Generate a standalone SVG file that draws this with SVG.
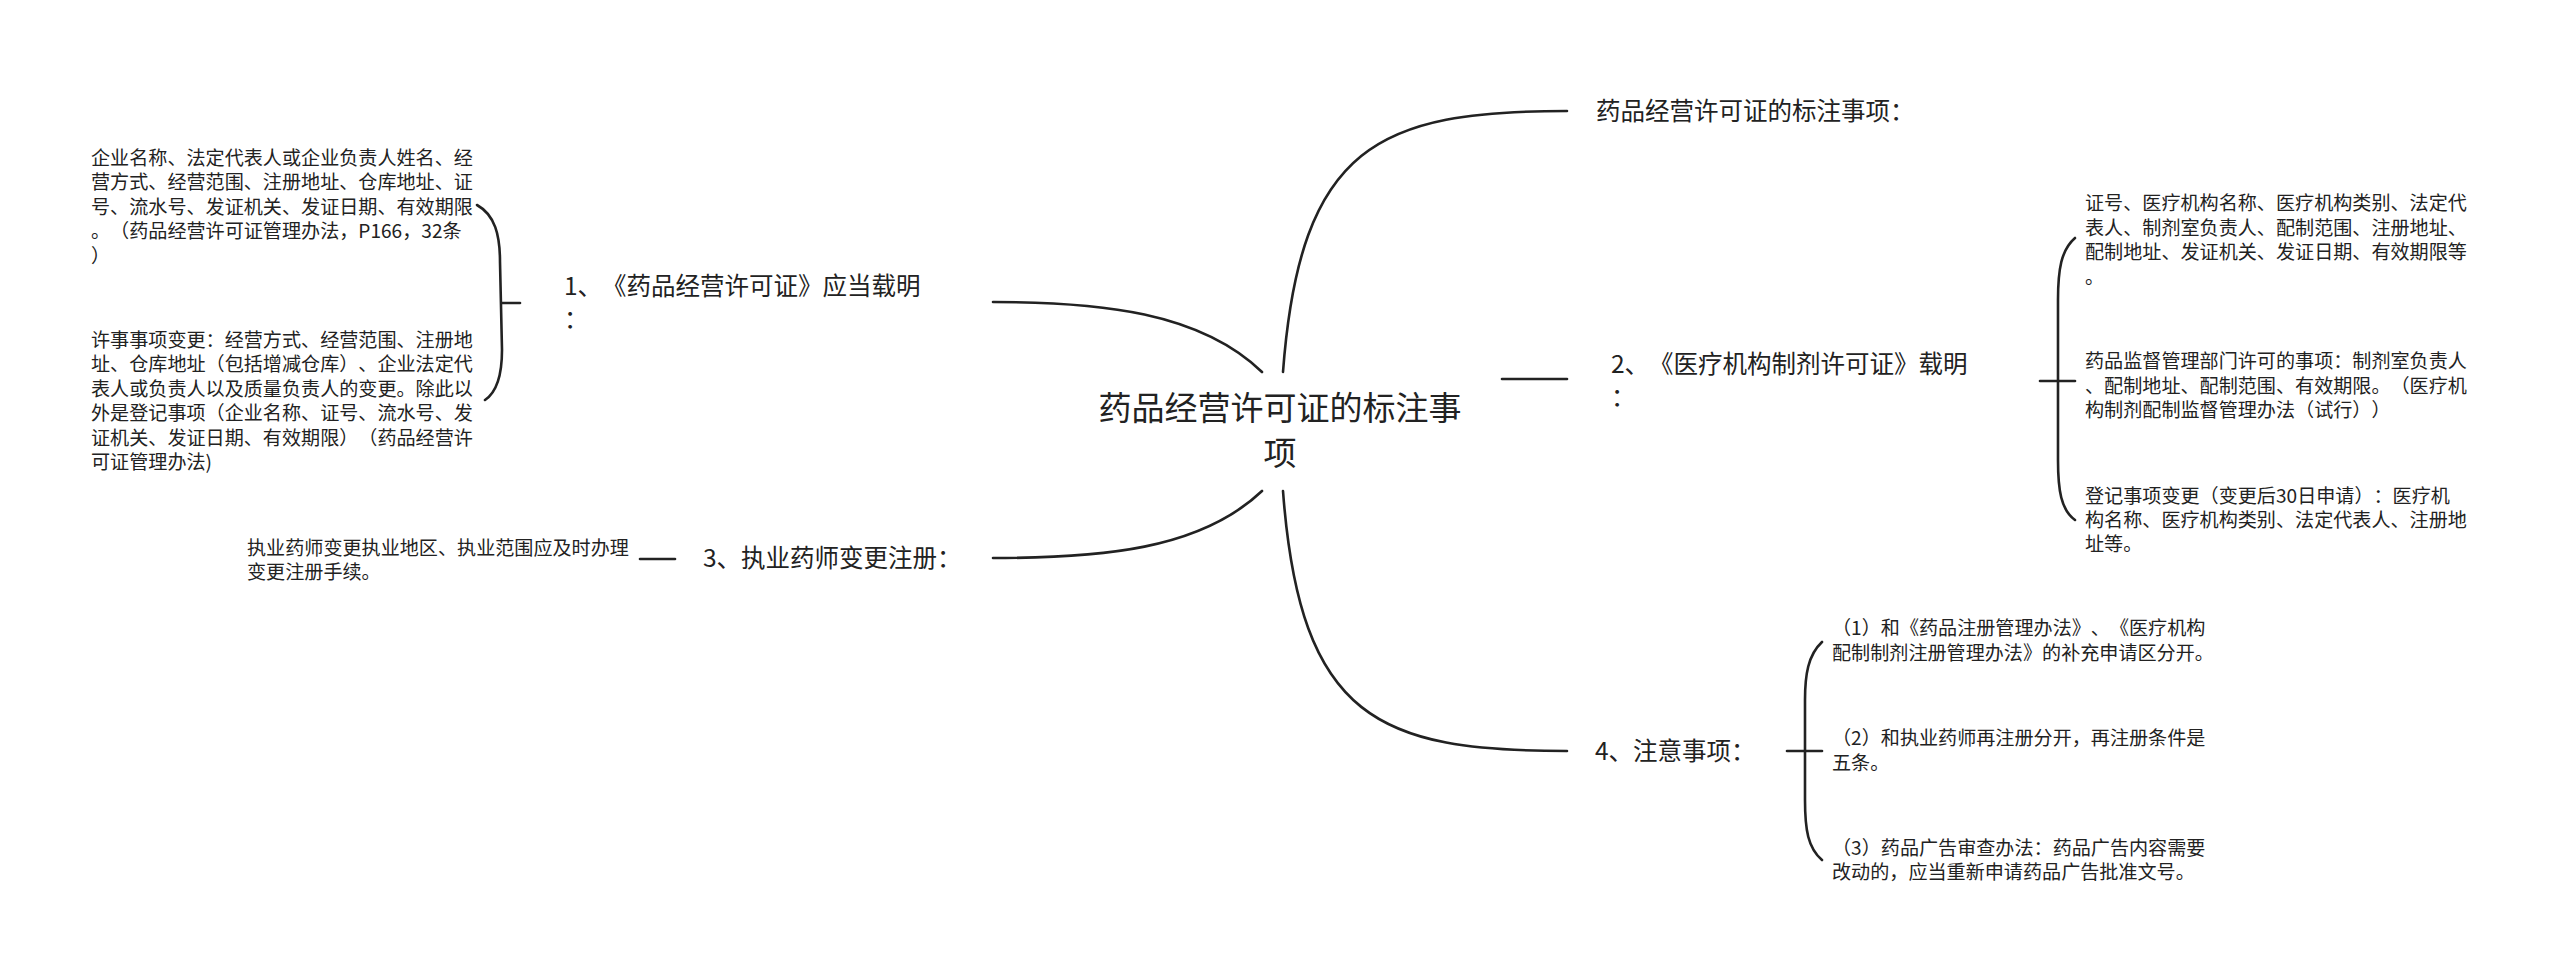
<svg xmlns="http://www.w3.org/2000/svg" width="2560" height="977" viewBox="0 0 2560 977">
<style>
.t{font-family:"Noto Sans CJK SC","Noto Sans",sans-serif;fill:#222;text-spacing-trim:space-all;font-feature-settings:"halt" 0,"chws" 0,"palt" 0}
.c{font-size:33px}
.m{font-size:24.5px}
.s{font-size:19.1px}
.ln{fill:none;stroke:#222;stroke-width:2.6;stroke-linecap:round}
</style>
<rect width="2560" height="977" fill="#fff"/>
<g id="connectors">
<path class="ln" d="M1283,372 C1300,144 1380,111 1567,111"/>
<path class="ln" d="M1262,372 C1200,312 1100,302 993,302"/>
<path class="ln" d="M1502,379 L1567,379"/>
<path class="ln" d="M1262,491 C1200,550 1100,558 993,558"/>
<path class="ln" d="M1283,491 C1300,720 1380,751 1567,751"/>
<path class="ln" d="M477,205 C495,215 500,235 500,262 L502,350 C502,375 497,392 485,400"/>
<path class="ln" d="M502,303 L520,303"/>
<path class="ln" d="M2075,238 C2061,250 2058,270 2058,300 L2058,460 C2058,490 2061,510 2075,520"/>
<path class="ln" d="M2040,381 L2075,381"/>
<path class="ln" d="M640,559 L675,559"/>
<path class="ln" d="M1822,642 C1808,655 1805,675 1805,700 L1805,800 C1805,830 1808,848 1822,860"/>
<path class="ln" d="M1787,751 L1822,751"/>
</g>
<g id="center">
<text class="t c" x="1280" y="420" text-anchor="middle">药品经营许可证的标注事</text>
<text class="t c" x="1280" y="465" text-anchor="middle">项</text>
</g>
<g id="n-top">
<text class="t m" x="1596" y="120">药品经营许可证的标注事项：</text>
</g>
<g id="n1">
<text class="t m" x="564" y="295">1、《药品经营许可证》应当载明</text>
<text class="t m" x="564" y="328">：</text>
</g>
<g id="n1a">
<text class="t s" x="91" y="165">企业名称、法定代表人或企业负责人姓名、经</text>
<text class="t s" x="91" y="189.4">营方式、经营范围、注册地址、仓库地址、证</text>
<text class="t s" x="91" y="213.8">号、流水号、发证机关、发证日期、有效期限</text>
<text class="t s" x="91" y="238.2">。（药品经营许可证管理办法，P166，32条</text>
<text class="t s" x="91" y="262.6">）</text>
</g>
<g id="n1b">
<text class="t s" x="91" y="347">许事事项变更：经营方式、经营范围、注册地</text>
<text class="t s" x="91" y="371.4">址、仓库地址（包括增减仓库）、企业法定代</text>
<text class="t s" x="91" y="395.8">表人或负责人以及质量负责人的变更。除此以</text>
<text class="t s" x="91" y="420.2">外是登记事项（企业名称、证号、流水号、发</text>
<text class="t s" x="91" y="444.6">证机关、发证日期、有效期限）（药品经营许</text>
<text class="t s" x="91" y="469">可证管理办法)</text>
</g>
<g id="n2">
<text class="t m" x="1611" y="373">2、《医疗机构制剂许可证》载明</text>
<text class="t m" x="1611" y="406">：</text>
</g>
<g id="n2a">
<text class="t s" x="2085" y="210">证号、医疗机构名称、医疗机构类别、法定代</text>
<text class="t s" x="2085" y="234.5">表人、制剂室负责人、配制范围、注册地址、</text>
<text class="t s" x="2085" y="259">配制地址、发证机关、发证日期、有效期限等</text>
<text class="t s" x="2085" y="283.5">。</text>
</g>
<g id="n2b">
<text class="t s" x="2085" y="368">药品监督管理部门许可的事项：制剂室负责人</text>
<text class="t s" x="2085" y="392.5">、配制地址、配制范围、有效期限。（医疗机</text>
<text class="t s" x="2085" y="417">构制剂配制监督管理办法（试行））</text>
</g>
<g id="n2c">
<text class="t s" x="2085" y="503">登记事项变更（变更后30日申请）：医疗机</text>
<text class="t s" x="2085" y="527">构名称、医疗机构类别、法定代表人、注册地</text>
<text class="t s" x="2085" y="551">址等。</text>
</g>
<g id="n3">
<text class="t m" x="703" y="567">3、执业药师变更注册：</text>
</g>
<g id="n3a">
<text class="t s" x="247" y="555">执业药师变更执业地区、执业范围应及时办理</text>
<text class="t s" x="247" y="579">变更注册手续。</text>
</g>
<g id="n4">
<text class="t m" x="1595" y="760">4、注意事项：</text>
</g>
<g id="n4a">
<text class="t s" x="1832" y="635">（1）和《药品注册管理办法》、《医疗机构</text>
<text class="t s" x="1832" y="660">配制制剂注册管理办法》的补充申请区分开。</text>
</g>
<g id="n4b">
<text class="t s" x="1832" y="745">（2）和执业药师再注册分开，再注册条件是</text>
<text class="t s" x="1832" y="770">五条。</text>
</g>
<g id="n4c">
<text class="t s" x="1832" y="855">（3）药品广告审查办法：药品广告内容需要</text>
<text class="t s" x="1832" y="879">改动的，应当重新申请药品广告批准文号。</text>
</g>
</svg>
